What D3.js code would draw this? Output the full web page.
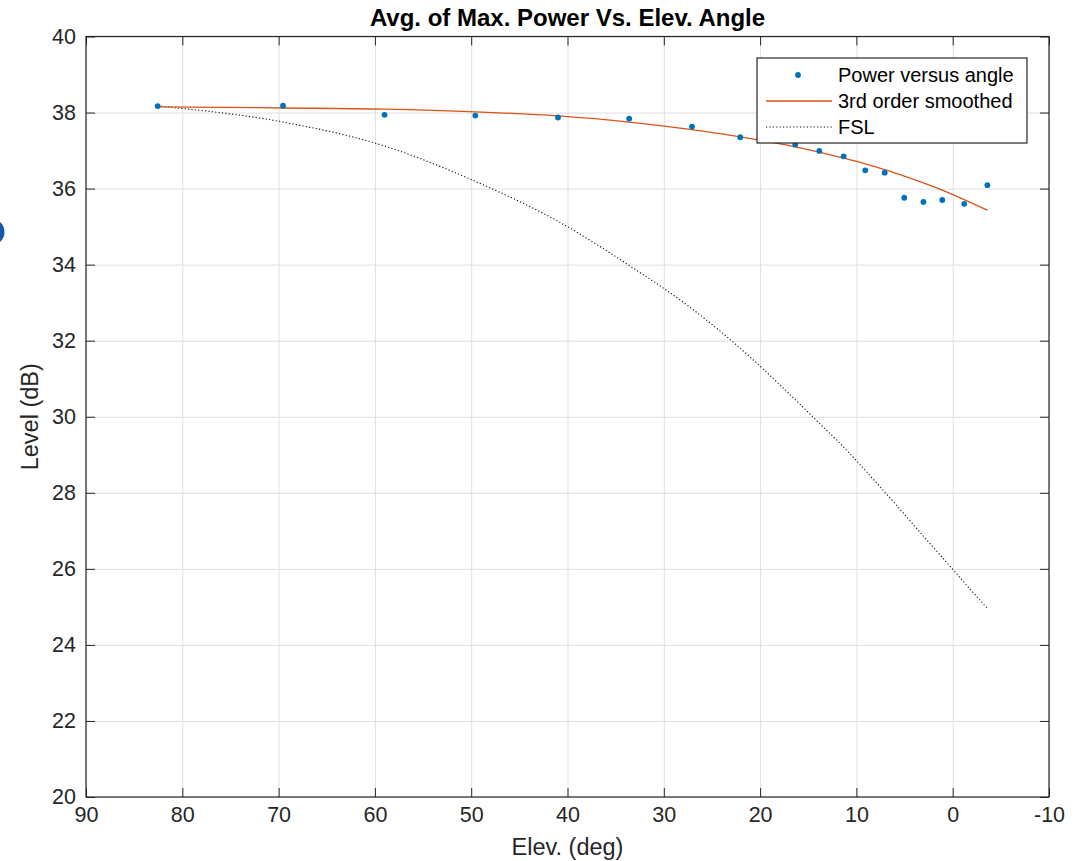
<!DOCTYPE html>
<html>
<head>
<meta charset="utf-8">
<script src="https://cdn.jsdelivr.net/npm/d3@7"></script>
<style>
  body { margin: 0; background: #fff; }
  svg { display: block; font-family: 'Liberation Sans', Arial, sans-serif; }
</style>
</head>
<body>
<div class="canvas"></div>
<script>
// elevation angles (deg) of the measurements
const elev = [82.56, 69.54, 59.0, 49.57, 40.99, 33.6, 27.07, 22.06, 16.35, 13.85,
  11.32, 9.08, 7.06, 5.03, 3.04, 1.08, -1.2, -3.6];
// measured power (dB)
const power = [38.17, 38.18, 37.94, 37.92, 37.87, 37.84, 37.63, 37.35, 37.16, 36.99,
  36.85, 36.48, 36.42, 35.76, 35.65, 35.70, 35.60, 36.09];
// 3rd order smoothed fit
const smooth = [38.15, 38.12, 38.09, 38.02, 37.91, 37.75, 37.55, 37.36, 37.10, 36.96,
  36.80, 36.65, 36.50, 36.33, 36.15, 35.96, 35.71, 35.43];
// free space loss curve
const fsl = [38.17, 37.75, 37.12, 36.19, 35.14, 33.98, 32.84, 31.80, 30.45, 29.83,
  29.20, 28.59, 28.02, 27.44, 26.86, 26.30, 25.64, 24.96];

const xTicks = [90, 80, 70, 60, 50, 40, 30, 20, 10, 0, -10];
const yTicks = [20, 22, 24, 26, 28, 30, 32, 34, 36, 38, 40];
const legendNames = ['Power versus angle', '3rd order smoothed', 'FSL'];

const dims = {
  width: 1081,
  height: 861,
  left: 86,
  right: 1049,
  top: 36.5,
  bottom: 797,
  fontSize: '21.5px',
  labelSize: '23.5px'
};
const axisColor = '#262626';
const blue = '#0072BD';
const orange = '#D95319';

const svg = d3.select('.canvas')
  .append('svg')
  .attr('width', dims.width)
  .attr('height', dims.height);

// stray marker on the left edge of the screenshot
svg.append('circle')
  .attr('cx', -9).attr('cy', 232).attr('r', 13.5)
  .attr('fill', '#1b55a3');

const x = d3.scaleLinear().domain([90, -10]).range([dims.left, dims.right]);
const y = d3.scaleLinear().domain([20, 40]).range([dims.bottom, dims.top]);
const plotW = dims.right - dims.left;
const plotH = dims.bottom - dims.top;

// grid
svg.append('g')
  .attr('transform', `translate(0, ${dims.bottom})`)
  .call(d3.axisBottom(x).tickValues(xTicks).tickSize(-plotH).tickFormat(''))
  .call(g => g.select('.domain').remove())
  .selectAll('line').attr('stroke', '#dedede').attr('stroke-width', 1);
svg.append('g')
  .attr('transform', `translate(${dims.left}, 0)`)
  .call(d3.axisLeft(y).tickValues(yTicks).tickSize(-plotW).tickFormat(''))
  .call(g => g.select('.domain').remove())
  .selectAll('line').attr('stroke', '#dedede').attr('stroke-width', 1);

// data
const line = d3.line()
  .x((d) => x(d[0]))
  .y((d) => y(d[1]))
  .curve(d3.curveMonotoneX);

svg.append('path')
  .datum(elev.map((e, i) => [e, fsl[i]]))
  .attr('d', line)
  .attr('fill', 'none')
  .attr('stroke', '#111')
  .attr('stroke-width', 1.1)
  .attr('stroke-dasharray', '1.2,2.2');

svg.append('path')
  .datum(elev.map((e, i) => [e, smooth[i]]))
  .attr('d', line)
  .attr('fill', 'none')
  .attr('stroke', orange)
  .attr('stroke-width', 1.3);

svg.append('g')
  .selectAll('circle')
  .data(elev.map((e, i) => [e, power[i]]))
  .enter()
  .append('circle')
  .attr('cx', (d) => x(d[0]))
  .attr('cy', (d) => y(d[1]))
  .attr('r', 2.9)
  .attr('fill', blue);

// axes with inward ticks
const styleAxis = (g) => {
  g.select('.domain').remove();
  g.selectAll('line').attr('stroke', axisColor).attr('stroke-width', 1);
  g.selectAll('text')
    .attr('fill', axisColor)
    .attr('font-size', dims.fontSize)
    .attr('font-family', "'Liberation Sans', Arial, sans-serif");
};
const plain = (d) => String(d);

svg.append('g')
  .attr('transform', `translate(0, ${dims.bottom})`)
  .call(d3.axisBottom(x).tickValues(xTicks).tickFormat(plain)
    .tickSizeInner(-9).tickSizeOuter(0).tickPadding(10))
  .call(styleAxis);
svg.append('g')
  .attr('transform', `translate(0, ${dims.top})`)
  .call(d3.axisTop(x).tickValues(xTicks).tickSizeInner(-9).tickSizeOuter(0).tickFormat(''))
  .call(styleAxis);
svg.append('g')
  .attr('transform', `translate(${dims.left}, 0)`)
  .call(d3.axisLeft(y).tickValues(yTicks).tickFormat(plain)
    .tickSizeInner(-9).tickSizeOuter(0).tickPadding(10))
  .call(styleAxis);
svg.append('g')
  .attr('transform', `translate(${dims.right}, 0)`)
  .call(d3.axisRight(y).tickValues(yTicks).tickSizeInner(-9).tickSizeOuter(0).tickFormat(''))
  .call(styleAxis);

svg.append('rect')
  .attr('x', dims.left).attr('y', dims.top)
  .attr('width', plotW).attr('height', plotH)
  .attr('fill', 'none')
  .attr('stroke', axisColor)
  .attr('stroke-width', 1.2);

// labels
svg.append('text')
  .attr('x', (dims.left + dims.right) / 2)
  .attr('y', 26)
  .attr('text-anchor', 'middle')
  .attr('font-size', '24px')
  .attr('font-weight', 'bold')
  .attr('fill', '#000')
  .text('Avg. of Max. Power Vs. Elev. Angle');

svg.append('text')
  .attr('x', (dims.left + dims.right) / 2)
  .attr('y', 855)
  .attr('text-anchor', 'middle')
  .attr('font-size', dims.labelSize)
  .attr('fill', axisColor)
  .text('Elev. (deg)');

svg.append('text')
  .attr('transform', `translate(38, ${(dims.top + dims.bottom) / 2}) rotate(-90)`)
  .attr('text-anchor', 'middle')
  .attr('font-size', dims.labelSize)
  .attr('fill', axisColor)
  .text('Level (dB)');

// legend
const legend = svg.append('g').attr('transform', 'translate(757, 58)');
legend.append('rect')
  .attr('width', 270).attr('height', 85)
  .attr('fill', '#fff')
  .attr('stroke', axisColor)
  .attr('stroke-width', 1.2);

const rows = legend.selectAll('g.row')
  .data(legendNames)
  .enter()
  .append('g')
  .attr('class', 'row')
  .attr('transform', (d, i) => `translate(0, ${17 + i * 26})`);

rows.append('text')
  .attr('x', 81)
  .attr('dy', '0.35em')
  .attr('font-size', '20px')
  .attr('fill', '#000')
  .text((d) => d);

rows.filter((d, i) => i === 0).append('circle')
  .attr('cx', 41).attr('r', 2.9).attr('fill', blue);
rows.filter((d, i) => i === 1).append('line')
  .attr('x1', 9).attr('x2', 75)
  .attr('stroke', orange).attr('stroke-width', 1.3);
rows.filter((d, i) => i === 2).append('line')
  .attr('x1', 9).attr('x2', 75)
  .attr('stroke', '#111').attr('stroke-width', 1.1)
  .attr('stroke-dasharray', '1.2,2.2');
</script>
</body>
</html>
